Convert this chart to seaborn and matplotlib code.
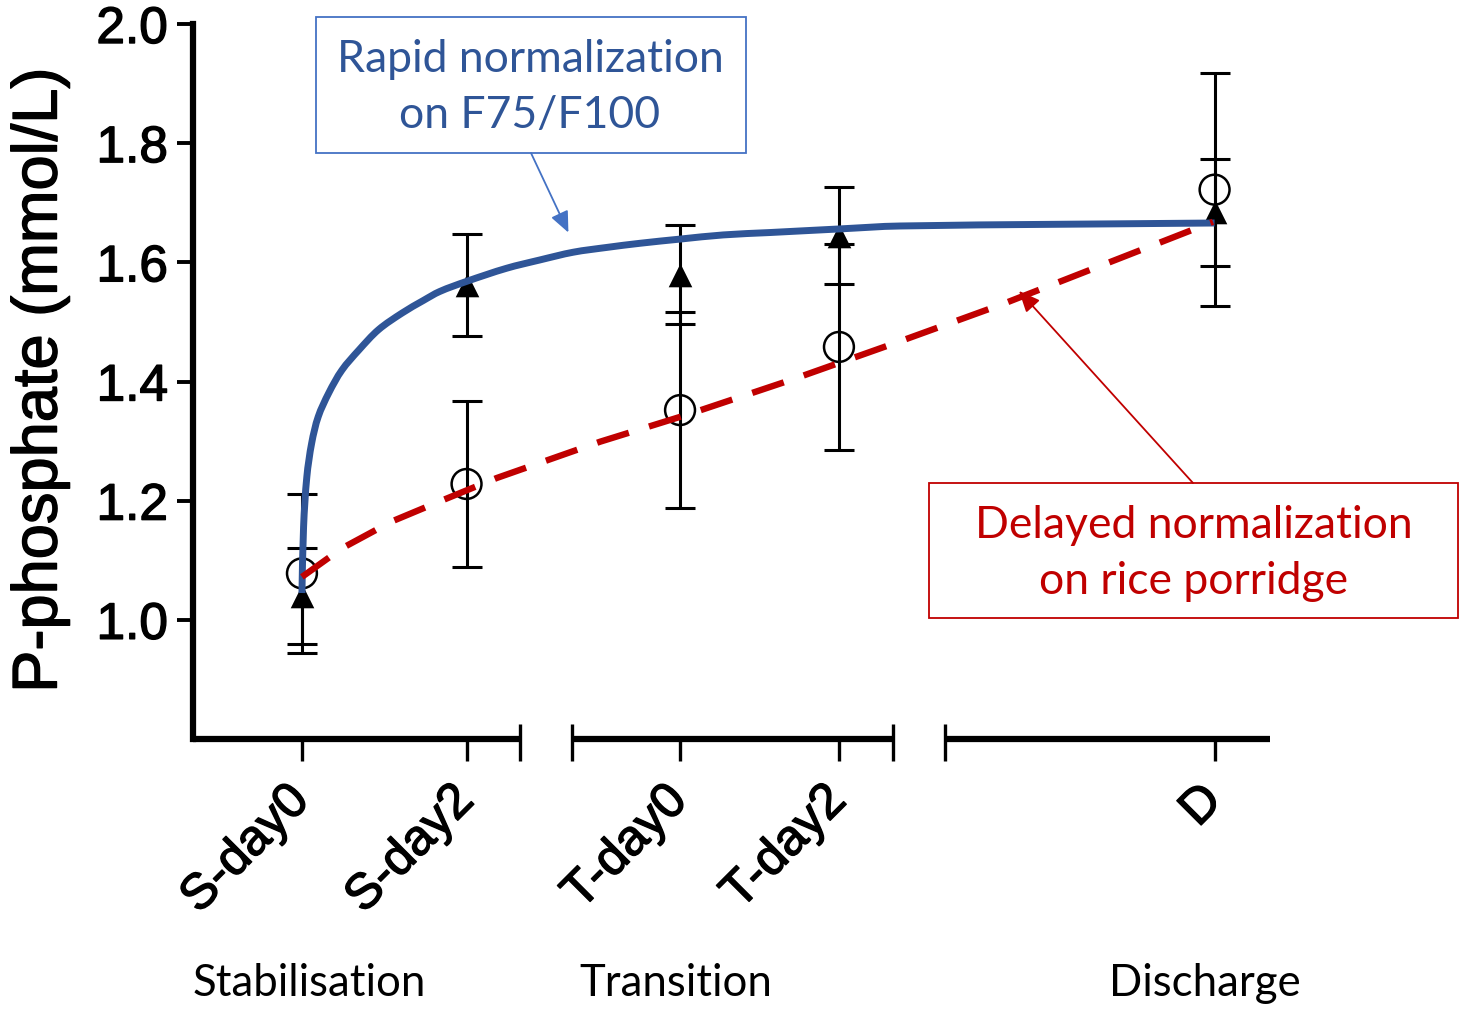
import matplotlib
matplotlib.use("Agg")
import numpy as np
import matplotlib.pyplot as plt
import matplotlib.patheffects as pe
import seaborn as sns
from matplotlib.patches import Rectangle, PathPatch
from matplotlib.path import Path

# timepoints and their positions on the (broken) x axis
TIMEPOINTS = ["S-day0", "S-day2", "T-day0", "T-day2", "D"]
X_POS = [0.0, 2.02, 4.64, 6.59, 11.2]

# F75/F100 group (filled triangles), mean and error
F75_MEAN = [1.040, 1.562, 1.579, 1.645, 1.684]
F75_ERR = [0.080, 0.085, 0.083, 0.082, 0.090]

# rice porridge group (open circles), mean and error
RICE_MEAN = [1.078, 1.228, 1.352, 1.458, 1.722]
RICE_ERR = [0.133, 0.139, 0.165, 0.173, 0.195]

# fitted curve (blue)
F75_CURVE_X = [0.0, 0.02, 0.06, 0.12, 0.20, 0.33, 0.49, 0.70, 0.94, 1.23, 1.49,
               1.69, 2.02, 2.51, 2.92, 3.33, 3.74, 4.15, 4.64, 5.17, 5.74, 6.59,
               7.34, 11.2]
F75_CURVE_Y = [1.045, 1.156, 1.240, 1.297, 1.341, 1.381, 1.419, 1.453, 1.487,
               1.515, 1.536, 1.551, 1.568, 1.590, 1.604, 1.617, 1.625, 1.632,
               1.639, 1.646, 1.650, 1.656, 1.661, 1.666]

# trend line (red dashed)
RICE_LINE_X = [0.0, 0.49, 1.10, 1.73, 2.39, 3.66, 4.72, 6.01, 7.31, 8.60, 11.18]
RICE_LINE_Y = [1.072, 1.120, 1.165, 1.201, 1.238, 1.299, 1.344, 1.403, 1.466,
               1.530, 1.668]

Y_TICKS = [1.0, 1.2, 1.4, 1.6, 1.8, 2.0]
PHASES = ["Stabilisation", "Transition", "Discharge"]

BLUE = "#2F5597"
BLUE_LIGHT = "#4472C4"
RED = "#C00000"

W, H = 1460, 1009


def fx(px):
    return px / W


def fy(py):
    return 1 - py / H


def smooth_path(xs, ys, sx, sy):
    # cubic bezier through the read points (tangents from neighbours)
    p = np.column_stack([np.asarray(xs) * sx, np.asarray(ys) * sy])
    n = len(p)
    tang = np.zeros_like(p)
    for i in range(n):
        a = p[max(i - 1, 0)]
        b = p[min(i + 1, n - 1)]
        d = b - a
        tang[i] = d / np.hypot(*d)
    verts = [p[0]]
    codes = [Path.MOVETO]
    for i in range(n - 1):
        seg = np.hypot(*(p[i + 1] - p[i])) / 3
        verts += [p[i] + tang[i] * seg, p[i + 1] - tang[i + 1] * seg, p[i + 1]]
        codes += [Path.CURVE4] * 3
    verts = np.array(verts)
    verts[:, 0] /= sx
    verts[:, 1] /= sy
    return Path(verts, codes)


sns.set_theme(style="ticks")
plt.rcParams["font.family"] = ["Liberation Sans", "DejaVu Sans"]
bold_fx = [pe.withStroke(linewidth=1.0, foreground="black")]

fig = plt.figure(figsize=(14.6, 10.09), dpi=100)
ax = fig.add_axes([fx(193), fy(739), (1270 - 193) / W, (739 - 24) / H])
ax.set_xlim(-1.337, 11.88)
ax.set_ylim(0.8, 2.0)

# error bars
ax.errorbar(X_POS, RICE_MEAN, yerr=RICE_ERR, fmt="none", ecolor="black",
            elinewidth=2.2, capsize=11, capthick=2.2, zorder=2)
ax.errorbar(X_POS, F75_MEAN, yerr=F75_ERR, fmt="none", ecolor="black",
            elinewidth=2.2, capsize=11, capthick=2.2, zorder=2)

# markers
sns.scatterplot(x=X_POS, y=F75_MEAN, marker="^", s=17 ** 2, color="black",
                edgecolor="black", linewidth=0, zorder=3, ax=ax)
sns.scatterplot(x=X_POS, y=RICE_MEAN, marker="o", s=21.5 ** 2,
                facecolor="none", edgecolor="black", linewidth=1.8,
                zorder=3, ax=ax)

# curves (pixel-ish scaling so the smoothing is isotropic)
ax.add_patch(PathPatch(smooth_path(F75_CURVE_X, F75_CURVE_Y, 81.5, 596),
                       fill=False, edgecolor=BLUE, linewidth=5,
                       capstyle="butt", zorder=5))
sns.lineplot(x=RICE_LINE_X, y=RICE_LINE_Y, color=RED, linewidth=4.6,
             zorder=6, ax=ax)
ax.lines[-1].set_dashes((5.2, 3.3))
ax.lines[-1].set_dash_capstyle("butt")

# axes styling
for side in ["top", "right", "bottom"]:
    ax.spines[side].set_visible(False)
ax.spines["left"].set_linewidth(4.5)
ax.spines["left"].set_color("black")

ax.set_yticks(Y_TICKS)
ax.set_yticklabels([f"{v:.1f}" for v in Y_TICKS], fontsize=37)
ax.tick_params(axis="y", direction="out", length=11.5, width=2.8,
               pad=6.5, colors="black")

ax.set_xticks(X_POS)
ax.set_xticklabels(TIMEPOINTS, fontsize=36, rotation=45, ha="right",
                   va="center", rotation_mode="anchor")
ax.tick_params(axis="x", direction="out", length=16, width=2.4,
               pad=23, colors="black")
for lab in ax.get_xticklabels() + ax.get_yticklabels():
    lab.set_path_effects(bold_fx)

# broken x axis segments
xtrans = ax.get_xaxis_transform()
segments = [(-1.337, 2.675), (3.313, 7.252), (7.89, 11.88)]
for x0, x1 in segments:
    ax.plot([x0, x1], [0, 0], transform=xtrans, color="black", lw=4.5,
            solid_capstyle="butt", clip_on=False, zorder=7)
ax.vlines([2.675, 3.313, 7.252, 7.89], -0.031, 0.021, transform=xtrans,
          color="black", lw=2.4, clip_on=False, zorder=7)

ax.set_xlabel("")
ax.set_ylabel("")
fig.text(fx(40), fy(380), "P-phosphate (mmol/L)", rotation=90, ha="center",
         va="center", fontsize=45.5, color="black", path_effects=bold_fx)

# phase labels
label_font = ["Lato", "DejaVu Sans"]
for name, cx in zip(PHASES, [309, 676, 1205]):
    fig.text(fx(cx), fy(996), name, ha="center", va="baseline",
             fontsize=31.5, family=label_font, color="black")

# annotation boxes
fig.add_artist(Rectangle((fx(316), fy(153)), (746 - 316) / W, (153 - 17) / H,
                         transform=fig.transFigure, fill=False,
                         edgecolor=BLUE_LIGHT, linewidth=1.3))
fig.text(fx(530), fy(72), "Rapid normalization", ha="center", va="baseline",
         fontsize=32, family=label_font, color=BLUE)
fig.text(fx(530), fy(128), "on F75/F100", ha="center", va="baseline",
         fontsize=32, family=label_font, color=BLUE)

fig.add_artist(Rectangle((fx(929), fy(618)), (1458 - 929) / W, (618 - 483) / H,
                         transform=fig.transFigure, fill=False,
                         edgecolor=RED, linewidth=1.3))
fig.text(fx(1193.5), fy(538), "Delayed normalization", ha="center",
         va="baseline", fontsize=32, family=label_font, color=RED)
fig.text(fx(1193.5), fy(594), "on rice porridge", ha="center",
         va="baseline", fontsize=32, family=label_font, color=RED)

# arrows
ax.annotate("", xy=(3.27, 1.650), xycoords="data",
            xytext=(fx(531), fy(153)), textcoords="figure fraction",
            arrowprops=dict(arrowstyle="-|>,head_length=0.8,head_width=0.35",
                            color=BLUE_LIGHT, lw=1.3, mutation_scale=16,
                            shrinkA=0, shrinkB=0))
ax.annotate("", xy=(8.80, 1.552), xycoords="data",
            xytext=(fx(1193), fy(483)), textcoords="figure fraction",
            arrowprops=dict(arrowstyle="-|>,head_length=0.8,head_width=0.35",
                            color=RED, lw=1.3, mutation_scale=16,
                            shrinkA=0, shrinkB=0))

fig.savefig("out.png", dpi=100)
